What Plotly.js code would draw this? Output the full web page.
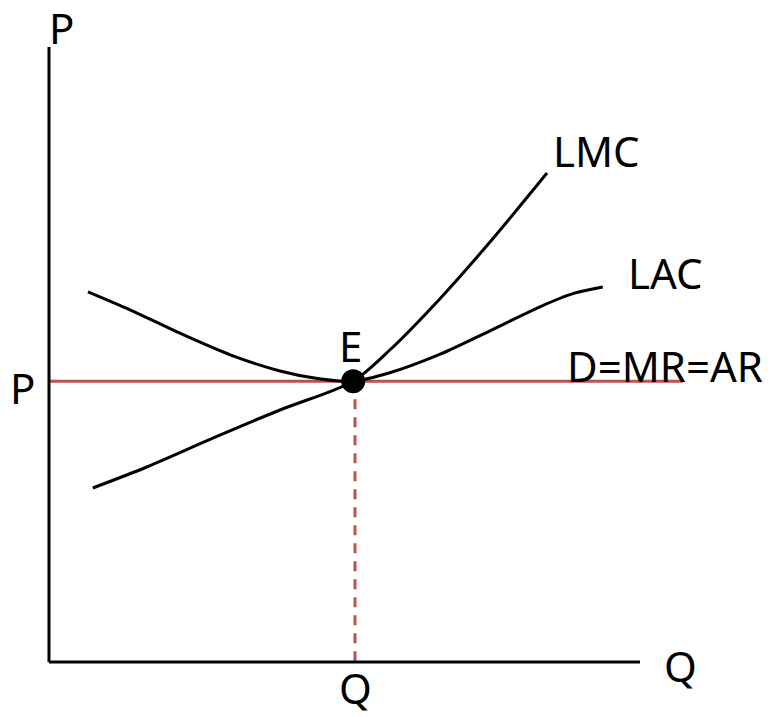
<!DOCTYPE html>
<html>
<head>
<meta charset="utf-8">
<script src="https://cdn.plot.ly/plotly-3.0.1.min.js"></script>
<style>
  html, body { margin: 0; padding: 0; background: white; }
  #chart { width: 774px; height: 717px; }
</style>
</head>
<body>
<div id="chart"></div>
<script>
// long-run equilibrium of a firm under perfect competition

// LAC curve (U-shaped, minimum at E)
const lacQ = [0.65, 1.35, 2.18, 3.02, 3.85, 4.5, 5.07, 5.68, 6.52, 7.35, 8.18, 8.73, 9.23];
const lacP = [6.17, 5.87, 5.48, 5.12, 4.85, 4.72, 4.68, 4.82, 5.13, 5.52, 5.92, 6.14, 6.25];

// LMC curve (cuts LAC at its minimum)
const lmcQ = [0.73, 1.63, 2.73, 3.85, 5.07, 5.68, 6.52, 7.35, 8.3];
const lmcP = [2.9, 3.25, 3.73, 4.2, 4.68, 5.2, 6.06, 7.0, 8.15];

// equilibrium point and price line
const eqQ = 5.07;
const eqP = 4.68;
const priceLineEnd = 10.57;

// axes extents
const qAxisEnd = 9.85;
const pAxisEnd = 10.25;

// labels
const labelText = ["P", "Q", "P", "Q", "E", "LMC", "LAC", "D=MR=AR"];
const labelQ = [0.2, 10.53, -0.45, 5.1, 5.03, 9.13, 10.27, 10.27];
const labelP = [10.57, -0.05, 4.57, -0.43, 5.28, 8.53, 6.5, 4.95];

const red = "#c0504d";

const traceLAC = {
  x: lacQ,
  y: lacP,
  mode: "lines",
  line: { color: "black", width: 3, shape: "spline", smoothing: 0.8 },
  hoverinfo: "skip",
};

const traceLMC = {
  x: lmcQ,
  y: lmcP,
  mode: "lines",
  line: { color: "black", width: 3, shape: "spline", smoothing: 0.8 },
  hoverinfo: "skip",
};

const tracePrice = {
  x: [0, priceLineEnd],
  y: [eqP, eqP],
  mode: "lines",
  line: { color: red, width: 3 },
  hoverinfo: "skip",
};

const traceDrop = {
  x: [eqQ + 0.03, eqQ + 0.03],
  y: [eqP, 0],
  mode: "lines",
  line: { color: red, width: 3, dash: "10px,8px" },
  hoverinfo: "skip",
};

const traceE = {
  x: [eqQ],
  y: [eqP],
  mode: "markers",
  marker: { color: "black", size: 24 },
  hoverinfo: "skip",
};

const annotations = labelText.map((t, i) => ({
  x: labelQ[i],
  y: labelP[i],
  text: t,
  showarrow: false,
  xanchor: "center",
  yanchor: "middle",
  font: { family: "Noto Sans", size: 42, color: "black" },
}));

const layout = {
  width: 774,
  height: 717,
  margin: { l: 0, r: 0, t: 0, b: 0 },
  showlegend: false,
  paper_bgcolor: "white",
  plot_bgcolor: "white",
  xaxis: {
    range: [-49 / 60, 725 / 60],
    visible: false,
    fixedrange: true,
  },
  yaxis: {
    range: [-55 / 60, 662 / 60],
    visible: false,
    fixedrange: true,
  },
  shapes: [
    {
      type: "line",
      x0: 0, x1: 0, y0: 0, y1: pAxisEnd,
      line: { color: "black", width: 3 },
    },
    {
      type: "line",
      x0: 0, x1: qAxisEnd, y0: 0, y1: 0,
      line: { color: "black", width: 3 },
    },
  ],
  annotations: annotations,
};

Plotly.newPlot("chart", [tracePrice, traceDrop, traceLAC, traceLMC, traceE], layout, {
  displayModeBar: false,
  staticPlot: true,
});
</script>
</body>
</html>
